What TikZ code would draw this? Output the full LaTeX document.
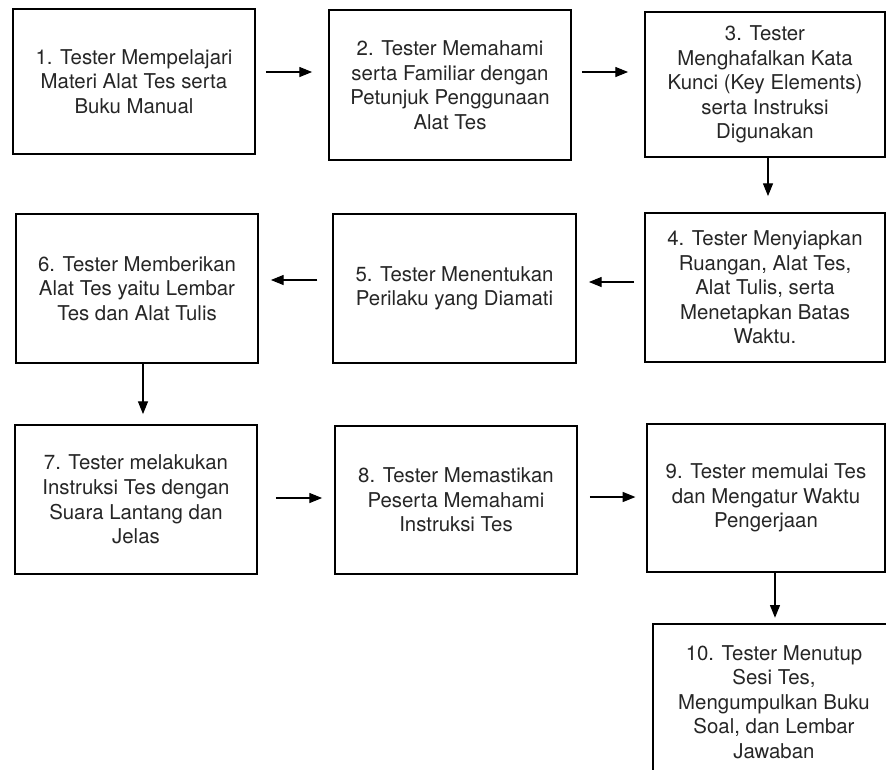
\documentclass[tikz,border=0pt]{standalone}
\usepackage{fontspec}
\setmainfont{TeX Gyre Heros}
\usepackage{tikz}
\usetikzlibrary{positioning, arrows.meta, calc}

\tikzset{
  flowbox/.style={draw=black, line width=1.4pt, align=center, inner sep=0pt,
    font=\fontsize{15.3}{18.4}\selectfont, text=black!85},
  flowarrow/.style={-{Triangle[length=9.5pt, width=7.5pt]}, line width=0.8pt}
}

\begin{document}
\begin{tikzpicture}[x=0.75pt, y=-0.75pt]
  \clip (0,0) rectangle (886,769);
  \fill[white] (0,0) rectangle (886,769);
  % row 1
  \node[flowbox, minimum width=181.5pt, minimum height=108.75pt] (s1) at (134,81.5)
    {1. Tester Mempelajari\\Materi Alat Tes serta\\Buku Manual};
  \node[flowbox, minimum width=181.5pt, minimum height=112.5pt] (s2) at (450,85)
    {2. Tester Memahami\\serta Familiar dengan\\Petunjuk Penggunaan\\Alat Tes};
  \node[flowbox, minimum width=180pt, minimum height=108.75pt] (s3) at (765,84.5)
    {3. Tester\\Menghafalkan Kata\\Kunci (Key Elements)\\serta Instruksi\\Digunakan};
  % row 2
  \node[flowbox, minimum width=180pt, minimum height=111.75pt] (s4) at (765,287.5)
    {4. Tester Menyiapkan\\Ruangan, Alat Tes,\\Alat Tulis, serta\\Menetapkan Batas\\Waktu.};
  \node[flowbox, minimum width=182.25pt, minimum height=111.75pt] (s5) at (454.5,288.5)
    {5. Tester Menentukan\\Perilaku yang Diamati};
  \node[flowbox, minimum width=181.5pt, minimum height=111.75pt] (s6) at (137,288.5)
    {6. Tester Memberikan\\Alat Tes yaitu Lembar\\Tes dan Alat Tulis};
  % row 3
  \node[flowbox, minimum width=181.5pt, minimum height=111.75pt] (s7) at (136,499.5)
    {7. Tester melakukan\\Instruksi Tes dengan\\Suara Lantang dan\\Jelas};
  \node[flowbox, minimum width=181.5pt, minimum height=111pt] (s8) at (456,500)
    {8. Tester Memastikan\\Peserta Memahami\\Instruksi Tes};
  \node[flowbox, minimum width=178.5pt, minimum height=111pt] (s9) at (766,498)
    {9. Tester memulai Tes\\dan Mengatur Waktu\\Pengerjaan};
  % last step, cut by the page edge
  \node[flowbox, minimum width=181.5pt, minimum height=117pt] (s10) at (774,702)
    {10. Tester Menutup\\Sesi Tes,\\Mengumpulkan Buku\\Soal, dan Lembar\\Jawaban};

  \draw[flowarrow, shorten <=7.5pt, shorten >=12pt] (s1.east |- 0,72) -- (s2.west |- 0,72);
  \draw[flowarrow, shorten <=7.5pt, shorten >=12pt] (s2.east |- 0,72) -- (s3.west |- 0,72);
  \draw[flowarrow, shorten >=12pt] (s3.south -| 768,0) -- (s4.north -| 768,0);
  \draw[flowarrow, shorten <=7.5pt, shorten >=9pt] (s4.west |- 0,282) -- (s5.east |- 0,282);
  \draw[flowarrow, shorten <=11pt, shorten >=9pt] (s5.west |- 0,280) -- (s6.east |- 0,280);
  \draw[flowarrow, shorten >=7.5pt] (s6.south -| 143,0) -- (s7.north -| 143,0);
  \draw[flowarrow, shorten <=13.5pt, shorten >=9pt] (s7.east |- 0,498) -- (s8.west |- 0,498);
  \draw[flowarrow, shorten <=9pt, shorten >=8pt] (s8.east |- 0,497) -- (s9.west |- 0,497);
  \draw[flowarrow, shorten >=4pt] (s9.south -| 775,0) -- (s10.north -| 775,0);
\end{tikzpicture}
\end{document}
